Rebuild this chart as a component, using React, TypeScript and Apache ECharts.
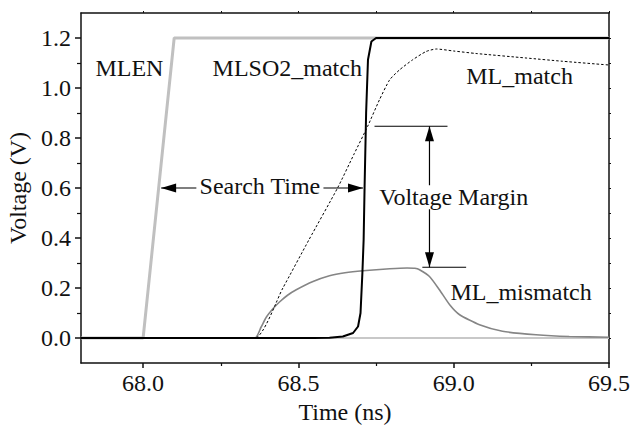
import React, { useEffect, useRef } from "react";
import * as echarts from "echarts";

// Time axis (ns)
const X_MIN = 67.8;
const X_MAX = 69.5;
const X_LABELS = [68.0, 68.5, 69.0, 69.5];
const X_MINOR = [68.25, 68.75, 69.25];

// Voltage axis (V)
const Y_MIN = -0.1;
const Y_MAX = 1.3;
const Y_LABELS = [0.0, 0.2, 0.4, 0.6, 0.8, 1.0, 1.2];
const Y_MINOR = [0.1, 0.3, 0.5, 0.7, 0.9, 1.1];

// MLEN enable pulse
const MLEN_T = [67.8, 68.0, 68.1, 69.5];
const MLEN_V = [0, 0, 1.2, 1.2];

// sense output of the mismatching line (stays low)
const MLSO2_MISMATCH_T = [67.8, 69.5];
const MLSO2_MISMATCH_V = [0, 0];

// sense output of the matching line
const MLSO2_MATCH_T = [67.8, 68.55, 68.6, 68.643, 68.676, 68.692, 68.7, 68.706, 68.71, 68.713, 68.718, 68.724, 68.735, 68.75, 69.5];
const MLSO2_MATCH_V = [0, 0, 0.001, 0.006, 0.02, 0.046, 0.1, 0.26, 0.393, 0.6, 0.9, 1.113, 1.186, 1.2, 1.2];

// match line voltage, matching word
const ML_MATCH_T = [67.8, 68.2, 68.36, 68.45, 68.534, 68.626, 68.68, 68.723, 68.761, 68.794, 68.826, 68.868, 68.911, 68.944, 69.0, 69.072, 69.233, 69.35, 69.5];
const ML_MATCH_V = [0, 0, 0, 0.2, 0.393, 0.6, 0.738, 0.847, 0.953, 1.033, 1.073, 1.113, 1.146, 1.156, 1.148, 1.138, 1.12, 1.107, 1.092];

// match line voltage, mismatching word
const ML_MISMATCH_T = [67.8, 68.2, 68.36, 68.38, 68.397, 68.42, 68.44, 68.465, 68.493, 68.547, 68.6, 68.65, 68.708, 68.794, 68.85, 68.875, 68.89, 68.922, 68.954, 68.987, 69.019, 69.083, 69.157, 69.265, 69.372, 69.5];
const ML_MISMATCH_V = [0, 0, 0, 0.044, 0.084, 0.12, 0.145, 0.171, 0.193, 0.226, 0.249, 0.261, 0.269, 0.277, 0.28, 0.279, 0.273, 0.246, 0.193, 0.133, 0.093, 0.053, 0.027, 0.013, 0.006, 0.003];

// Annotation anchors (data coordinates)
const SEARCH_V = 0.6;
const SEARCH_T = [68.058, 68.708];
const MARGIN_T = 68.922;
const MARGIN_V = [0.847, 0.283];
const MARGIN_TOP_SPAN = [68.745, 68.98];
const MARGIN_BOTTOM_SPAN = [68.899, 69.04];

const FONT = "'Liberation Serif', 'Times New Roman', serif";
const FS = 24;

const zip = (t: number[], v: number[]) => t.map((x, i) => [x, v[i]]);

export default function App() {
  const ref = useRef<HTMLDivElement>(null);

  useEffect(() => {
    if (!ref.current) return;
    const chart = echarts.init(ref.current, null, { renderer: "svg" });

    const axisLine = { show: true, onZero: false, lineStyle: { color: "#111", width: 1.5 } };
    const hiddenLine = { show: false, onZero: false };
    const noLabel = { show: false };

    const option: any = {
      animation: false,
      backgroundColor: "#fff",
      grid: { left: 81, top: 13, right: 21, bottom: 63, containLabel: false, outerBoundsMode: "none" },
      xAxis: [
        {
          type: "value", position: "bottom", min: X_MIN, max: X_MAX,
          axisLine, splitLine: { show: false },
          axisTick: { show: true, inside: false, length: 5, customValues: X_LABELS, lineStyle: { color: "#111", width: 1.5 } },
          axisLabel: { customValues: X_LABELS, formatter: (v: number) => v.toFixed(1), fontFamily: FONT, fontSize: FS, color: "#111", margin: 8 },
          name: "Time (ns)", nameLocation: "middle", nameGap: 36,
          nameTextStyle: { fontFamily: FONT, fontSize: FS, color: "#111" },
        },
        {
          type: "value", position: "bottom", min: X_MIN, max: X_MAX,
          axisLine: hiddenLine, splitLine: { show: false }, axisLabel: noLabel,
          axisTick: { show: true, length: 3, customValues: X_MINOR, lineStyle: { color: "#111", width: 1.2 } },
        },
        {
          type: "value", position: "top", min: X_MIN, max: X_MAX,
          axisLine, splitLine: { show: false }, axisLabel: noLabel,
          axisTick: { show: true, length: 2, customValues: [...X_LABELS, ...X_MINOR], lineStyle: { color: "#111", width: 1 } },
        },
      ],
      yAxis: [
        {
          type: "value", position: "left", min: Y_MIN, max: Y_MAX,
          axisLine, splitLine: { show: false },
          axisTick: { show: true, length: 6, customValues: Y_LABELS, lineStyle: { color: "#111", width: 1.5 } },
          axisLabel: { customValues: Y_LABELS, formatter: (v: number) => v.toFixed(1), fontFamily: FONT, fontSize: FS, color: "#111", margin: 10 },
          name: "Voltage (V)", nameLocation: "middle", nameGap: 47, nameRotate: 90,
          nameTextStyle: { fontFamily: FONT, fontSize: FS, color: "#111" },
        },
        {
          type: "value", position: "left", min: Y_MIN, max: Y_MAX,
          axisLine: hiddenLine, splitLine: { show: false }, axisLabel: noLabel,
          axisTick: { show: true, length: 4, customValues: Y_MINOR, lineStyle: { color: "#111", width: 1.2 } },
        },
        {
          type: "value", position: "right", min: Y_MIN, max: Y_MAX,
          axisLine, splitLine: { show: false }, axisLabel: noLabel,
          axisTick: { show: true, length: 2, customValues: [...Y_LABELS, ...Y_MINOR], lineStyle: { color: "#111", width: 1 } },
        },
      ],
      series: [
        {
          name: "MLSO2_mismatch", type: "line", showSymbol: false, symbol: "none",
          data: zip(MLSO2_MISMATCH_T, MLSO2_MISMATCH_V),
          lineStyle: { color: "#c8c8c8", width: 2 },
        },
        {
          name: "MLEN", type: "line", showSymbol: false, symbol: "none",
          data: zip(MLEN_T, MLEN_V),
          lineStyle: { color: "#c0c0c0", width: 3 },
        },
        {
          name: "ML_mismatch", type: "line", showSymbol: false, symbol: "none", smooth: 0.2,
          data: zip(ML_MISMATCH_T, ML_MISMATCH_V),
          lineStyle: { color: "#858585", width: 1.6 },
        },
        {
          name: "ML_match", type: "line", showSymbol: false, symbol: "none", smooth: 0.2,
          data: zip(ML_MATCH_T, ML_MATCH_V),
          lineStyle: { color: "#000", width: 1, type: [2.5, 2] },
        },
        {
          name: "MLSO2_match", type: "line", showSymbol: false, symbol: "none",
          data: zip(MLSO2_MATCH_T, MLSO2_MATCH_V),
          lineStyle: { color: "#000", width: 2 },
        },
      ],
    };
    chart.setOption(option);

    const px = (t: number, v: number) => chart.convertToPixel({ seriesIndex: 0 }, [t, v]) as number[];
    const ink = { stroke: "#000", lineWidth: 1.2 };
    const head = (tip: number[], dx: number, dy: number) => {
      // dx,dy: unit direction the arrow points to
      const len = 15, hw = 4.5;
      const bx = tip[0] - dx * len, by = tip[1] - dy * len;
      return {
        type: "polygon", z: 100,
        shape: { points: [tip, [bx - dy * hw, by + dx * hw], [bx + dy * hw, by - dx * hw]] },
        style: { fill: "#000" },
      };
    };
    const seg = (a: number[], b: number[]) => ({
      type: "line", z: 100, shape: { x1: a[0], y1: a[1], x2: b[0], y2: b[1] }, style: ink,
    });
    const label = (txt: string, t: number, v: number, bg = false) => {
      const p = px(t, v);
      return {
        type: "text", z: 110, x: p[0], y: p[1],
        style: {
          text: txt, fontFamily: FONT, fontSize: FS, fill: "#111",
          align: "center", verticalAlign: "middle",
          ...(bg ? { backgroundColor: "#fff", padding: [0, 3] } : {}),
        },
      };
    };

    const sL = px(SEARCH_T[0], SEARCH_V);
    const sR = px(SEARCH_T[1], SEARCH_V);
    const mT = px(MARGIN_T, MARGIN_V[0]);
    const mB = px(MARGIN_T, MARGIN_V[1]);

    chart.setOption({
      graphic: [
        seg(sL, sR), head(sL, -1, 0), head(sR, 1, 0),
        label("Search Time", 68.376, 0.607, true),
        seg(px(MARGIN_TOP_SPAN[0], MARGIN_V[0]), px(MARGIN_TOP_SPAN[1], MARGIN_V[0])),
        seg(px(MARGIN_BOTTOM_SPAN[0], MARGIN_V[1]), px(MARGIN_BOTTOM_SPAN[1], MARGIN_V[1])),
        seg(mT, mB), head(mT, 0, -1), head(mB, 0, 1),
        label("Voltage Margin", 69.0, 0.563, true),
        label("MLEN", 67.956, 1.079),
        label("MLSO2_match", 68.464, 1.08),
        label("ML_match", 69.212, 1.047),
        label("ML_mismatch", 69.217, 0.183),
      ],
    });

    return () => chart.dispose();
  }, []);

  return (
    <div
      ref={ref}
      style={{ position: "fixed", left: 0, top: 0, width: 630, height: 426, background: "#fff" }}
    />
  );
}
